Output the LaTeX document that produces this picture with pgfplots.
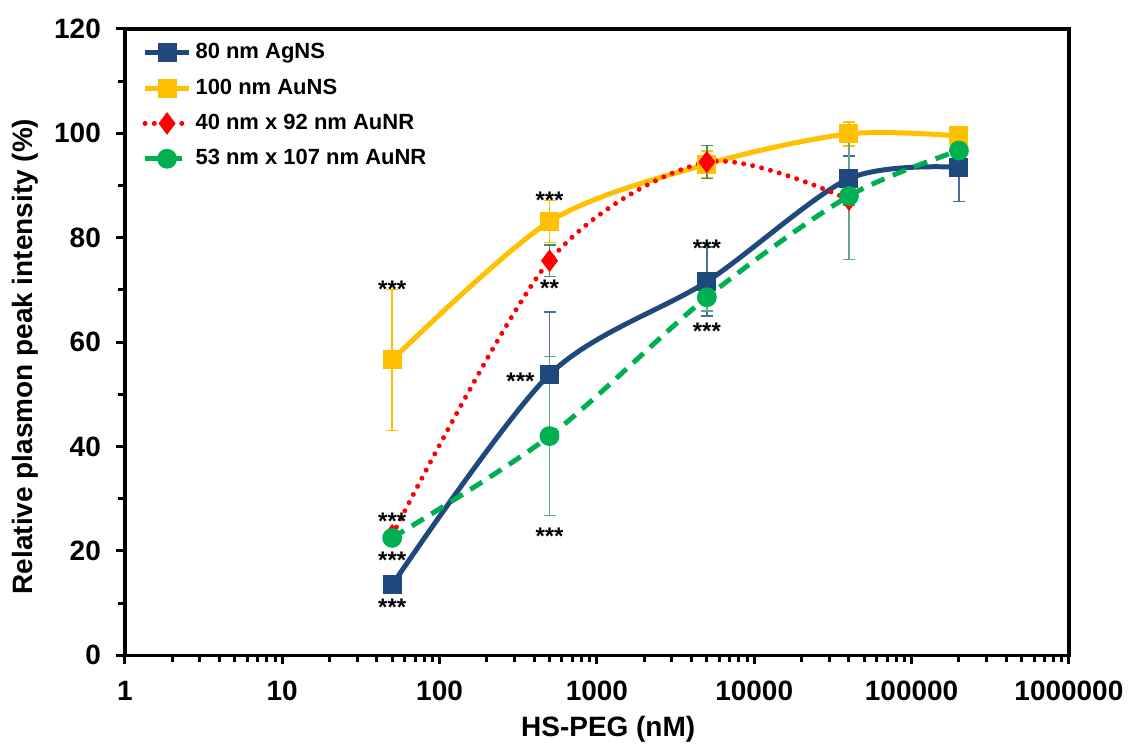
\documentclass[border=0pt]{standalone}
\usepackage{fontspec}
\setmainfont{Liberation Sans}
\usepackage{pgfplots}
\pgfplotsset{compat=1.18}

\definecolor{agns}{HTML}{1F497D}
\definecolor{auns}{HTML}{FFC000}
\definecolor{nrred}{HTML}{FF0000}
\definecolor{nrgreen}{HTML}{00B050}
\definecolor{errteal}{HTML}{3E8E6A}

\newcommand{\stars}[1]{\fontsize{12}{12}\selectfont\bfseries #1}

\begin{document}
\begin{tikzpicture}
\begin{axis}[
    scale only axis,
    width=472.5pt,
    height=313.5pt,
    xmode=log,
    xmin=1, xmax=1000000,
    ymin=0, ymax=120,
    xtick={1,10,100,1000,10000,100000,1000000},
    xticklabels={1,10,100,1000,10000,100000,1000000},
    ytick={0,20,...,120},
    minor y tick num=1,
    tick align=outside,
    tick pos=left,
    major tick length=4.5pt,
    minor tick length=3.5pt,
    every tick/.style={black, line width=1.5pt},
    axis line style={line width=1.8pt},
    /pgf/number format/assume math mode=true,
    tick label style={font=\fontsize{14}{16}\selectfont\bfseries},
    xticklabel style={yshift=-5pt},
    yticklabel style={xshift=-4pt},
    label style={font=\fontsize{14}{16}\selectfont\bfseries},
    xlabel={HS-PEG (nM)},
    ylabel={Relative plasmon peak intensity (\%)},
    xlabel style={at={(axis description cs:0.512,-0.118)}, anchor=center},
    ylabel style={at={(axis description cs:-0.106,0.477)}, anchor=center},
    legend style={at={(0.012,0.99)}, anchor=north west, draw=none, fill=none,
        font=\fontsize{11}{13}\selectfont\bfseries, row sep=4.5pt},
    legend cell align=left,
    legend image code/.code={
        \draw[mark repeat=2,mark phase=2] plot coordinates {(0pt,0pt)(11pt,0pt)(22pt,0pt)};
    },
    error bars/y dir=both,
    error bars/y explicit,
]

% 80 nm AgNS
\addplot[color=agns, line width=2.5pt, smooth, tension=0.5,
    mark=square*, mark size=3.5pt, mark options={solid, fill=agns},
    error bars/.cd, error bar style={line width=0.7pt, color=agns!80},
    error mark options={rotate=90, mark size=3pt, line width=0.7pt, color=agns!80}]
coordinates {
    (50,13.5) +- (0,0)
    (500,53.8) +- (0,12.0)
    (5000,71.6) +- (0,6.6)
    (40000,91.3) +- (0,4.4)
    (200000,93.5) +- (0,6.6)
};
\addlegendentry{80 nm AgNS}

% 100 nm AuNS
\addplot[color=auns, line width=2.5pt, smooth, tension=0.5,
    mark=square*, mark size=3.5pt, mark options={solid, fill=auns},
    error bars/.cd, error bar style={line width=0.7pt, color=auns},
    error mark options={rotate=90, mark size=3pt, line width=0.7pt, color=auns}]
coordinates {
    (50,56.6) +- (0,13.5)
    (500,83.1) +- (0,4.0)
    (5000,94.1) +- (0,2.5)
    (40000,99.9) +- (0,2.3)
    (200000,99.5) +- (0,1.7)
};
\addlegendentry{100 nm AuNS}

% 40 nm x 92 nm AuNR
\addplot[color=nrred, line width=2.5pt, smooth, tension=0.5,
    dash pattern=on 0pt off 4.6pt, line cap=round,
    mark=diamond*, mark size=3.6pt, mark options={solid, fill=nrred},
    error bars/.cd, error bar style={line width=0.7pt, solid, color=errteal},
    error mark options={rotate=90, mark size=3pt, line width=0.7pt, solid, color=errteal}]
coordinates {
    (50,23.0) +- (0,0)
    (500,75.6) +- (0,3.0)
    (5000,94.5) +- (0,3.2)
    (40000,87.3) +- (0,1.0)
};
\addlegendentry{40 nm x 92 nm AuNR}

% 53 nm x 107 nm AuNR
\addplot[color=nrgreen, line width=2.5pt, smooth, tension=0.5,
    dash pattern=on 7pt off 4.5pt,
    mark=*, mark size=3.7pt, mark options={solid, fill=nrgreen},
    error bars/.cd, error bar style={line width=0.7pt, solid, color=errteal!80},
    error mark options={rotate=90, mark size=3pt, line width=0.7pt, solid, color=errteal!80}]
coordinates {
    (50,22.5) +- (0,0)
    (500,42.0) +- (0,15.2)
    (5000,68.6) +- (0,2.6)
    (40000,88.0) +- (0,12.2)
    (200000,96.7) +- (0,0.8)
};
\addlegendentry{53 nm x 107 nm AuNR}

% significance marks
\node at (axis cs:50,70.2) {\stars{***}};
\node at (axis cs:50,25.6) {\stars{***}};
\node at (axis cs:50,18.3) {\stars{***}};
\node at (axis cs:50,9.3) {\stars{***}};
\node at (axis cs:500,87.2) {\stars{***}};
\node at (axis cs:500,70.4) {\stars{**}};
\node[anchor=east, xshift=-4pt] at (axis cs:500,52.6) {\stars{***}};
\node at (axis cs:500,22.9) {\stars{***}};
\node at (axis cs:5000,78.0) {\stars{***}};
\node at (axis cs:5000,62.0) {\stars{***}};
\end{axis}
\path (current axis.south west) ++(-62.5pt,-44.5pt) (current axis.north east) ++(30pt,14.5pt);
\end{tikzpicture}
\end{document}
